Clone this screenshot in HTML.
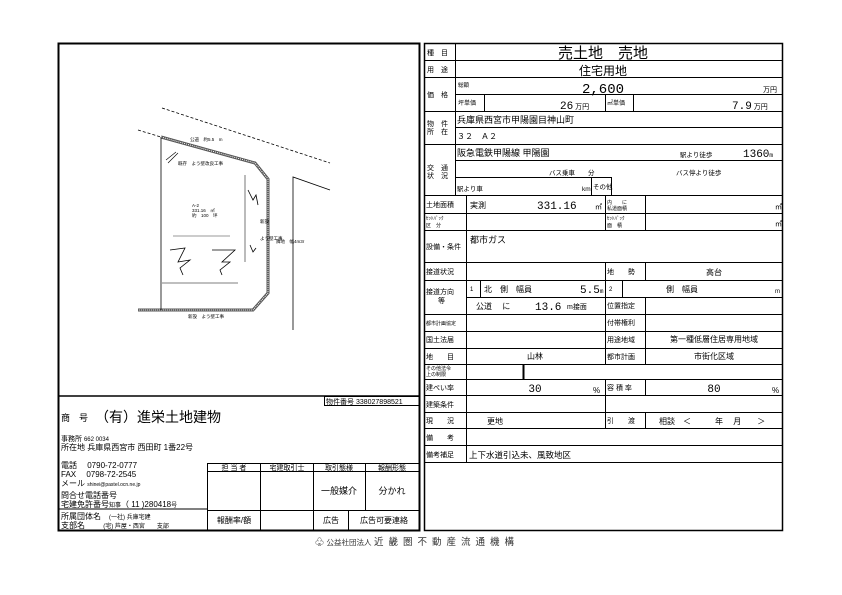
<!DOCTYPE html>
<html><head><meta charset="utf-8"><style>
html,body{margin:0;padding:0;background:#fff;}
svg{display:block;}
text{font-family:"Liberation Sans","Noto Sans CJK JP",sans-serif;fill:#000;}
.s{font-size:7px;}
.m{font-size:8.5px;}
.n{font-family:"Liberation Mono","Noto Sans CJK JP",monospace;}
</style></head><body>
<svg width="842" height="595" viewBox="0 0 842 595" xmlns="http://www.w3.org/2000/svg">
<g stroke="#000" fill="none">
<rect x="58.5" y="43.5" width="361" height="487" stroke-width="2"/>
<line x1="58" y1="396" x2="420" y2="396" stroke-width="1.5"/>
<rect x="324.5" y="396.5" width="95" height="9" stroke-width="1"/>
<line x1="58" y1="509" x2="207" y2="509" stroke-width="1"/>
<rect x="207.5" y="463.5" width="212" height="67" stroke-width="1"/>
<line x1="207" y1="471.5" x2="420" y2="471.5" stroke-width="1"/>
<line x1="207" y1="510.5" x2="420" y2="510.5" stroke-width="1"/>
<line x1="260.5" y1="463" x2="260.5" y2="531" stroke-width="1"/>
<line x1="313.5" y1="463" x2="313.5" y2="531" stroke-width="1"/>
<line x1="365.5" y1="463" x2="365.5" y2="510" stroke-width="1"/>
<line x1="348.5" y1="510" x2="348.5" y2="531" stroke-width="1"/>

<rect x="424.5" y="43.5" width="358" height="487" stroke-width="1.5"/>
<line x1="455.5" y1="43" x2="455.5" y2="195" stroke-width="1"/>
<g stroke-width="1">
<line x1="424" y1="60.5" x2="783" y2="60.5"/>
<line x1="424" y1="77.5" x2="783" y2="77.5"/>
<line x1="455" y1="94.5" x2="783" y2="94.5"/>
<line x1="424" y1="111.5" x2="783" y2="111.5"/>
<line x1="455" y1="127.5" x2="783" y2="127.5"/>
<line x1="424" y1="144.5" x2="783" y2="144.5"/>
<line x1="455" y1="160.5" x2="783" y2="160.5"/>
<line x1="455" y1="177.5" x2="611" y2="177.5"/>
<line x1="591.5" y1="177" x2="591.5" y2="195"/>
<line x1="611.5" y1="177" x2="611.5" y2="195"/>
<line x1="484.5" y1="94" x2="484.5" y2="111"/>
<line x1="605.5" y1="94" x2="605.5" y2="111"/>
<line x1="633.5" y1="94" x2="633.5" y2="111"/>
<line x1="424" y1="195.5" x2="783" y2="195.5"/>
<line x1="424" y1="213.5" x2="783" y2="213.5"/>
<line x1="424" y1="230.5" x2="783" y2="230.5"/>
<line x1="424" y1="262.5" x2="783" y2="262.5"/>
<line x1="424" y1="280.5" x2="783" y2="280.5"/>
<line x1="466" y1="297.5" x2="783" y2="297.5"/>
<line x1="424" y1="314.5" x2="783" y2="314.5"/>
<line x1="424" y1="331.5" x2="783" y2="331.5"/>
<line x1="424" y1="348.5" x2="783" y2="348.5"/>
<line x1="424" y1="364.5" x2="783" y2="364.5"/>
<line x1="424" y1="379.5" x2="783" y2="379.5"/>
<line x1="424" y1="395.5" x2="783" y2="395.5"/>
<line x1="424" y1="412.5" x2="783" y2="412.5"/>
<line x1="424" y1="428.5" x2="783" y2="428.5"/>
<line x1="424" y1="445.5" x2="783" y2="445.5"/>
<line x1="424" y1="462.5" x2="783" y2="462.5"/>
</g>
<line x1="466.5" y1="195" x2="466.5" y2="462" stroke-width="1"/>
<g stroke-width="1">
<line x1="605.5" y1="195" x2="605.5" y2="230"/>
<line x1="645.5" y1="195" x2="645.5" y2="230"/>
<line x1="605.5" y1="262" x2="605.5" y2="364"/>
<line x1="645.5" y1="262" x2="645.5" y2="280"/>
<line x1="622.5" y1="280" x2="622.5" y2="297"/>
<line x1="480.5" y1="280" x2="480.5" y2="297"/>
<line x1="645.5" y1="297" x2="645.5" y2="364"/>
<line x1="523.5" y1="364" x2="523.5" y2="379" stroke-width="2"/>
<line x1="605.5" y1="379" x2="605.5" y2="428"/>
<line x1="645.5" y1="379" x2="645.5" y2="395"/>
<line x1="645.5" y1="412" x2="645.5" y2="428"/>
</g>

<g stroke-width="0.8" stroke-dasharray="3,2">
<line x1="162" y1="108" x2="330" y2="163"/>
<line x1="138" y1="130" x2="161" y2="137"/>
</g>
<polyline points="161,137 255,163 268,179 268,293 253,310 138,310" stroke-width="3" stroke="#555"/>
<polyline points="161,137 255,163 268,179 268,293 253,310 138,310" stroke-width="1" stroke="#fff" stroke-dasharray="1,1"/>
<line x1="161" y1="137" x2="161" y2="310" stroke-width="0.8"/>
<polyline points="330,190 293,177 293,330" stroke-width="0.8"/>
<line x1="173" y1="236" x2="230" y2="236" stroke="#777" stroke-width="0.8"/>
<line x1="162" y1="283" x2="238" y2="283" stroke="#555" stroke-width="0.8"/>
<line x1="245" y1="175" x2="245" y2="262" stroke="#555" stroke-width="0.8"/>
<polyline points="170,250 185,248 178,262 190,260 180,268 183,275" stroke-width="0.8"/>
<polyline points="212,250 235,250 222,262 230,262 220,270 222,275" stroke-width="0.8"/>
<polyline points="248,190 253,200 256,195 258,205" stroke-width="0.8"/>
<polyline points="250,245 253,252 256,248" stroke-width="0.8"/>
<line x1="166" y1="160" x2="176" y2="152" stroke-width="0.6"/>
<line x1="168" y1="163" x2="178" y2="153" stroke-width="0.6"/>
</g>
<g style="font-size:4.5px">
<text x="190" y="141">公道　約5.5　m</text>
<text x="178" y="165">既存　よう壁改良工事</text>
<text x="192" y="207">A-2</text>
<text x="192" y="212">331.16　㎡</text>
<text x="192" y="217">約　100　坪</text>
<text x="260" y="223">新設</text>
<text x="260" y="240">よう壁工事</text>
<text x="276" y="243">隣地　幅4m3r</text>
<text x="188" y="318">新設　よう壁工事</text>
</g>

<text x="326" y="404" style="font-size:7px">物件番号 338027898521</text>
<text x="61" y="421" style="font-size:9px">商　号</text>
<text x="95" y="422" style="font-size:14px">（有）進栄土地建物</text>
<text x="61" y="441" class="s">事務所 <tspan style="font-size:6px">662 0034</tspan></text>
<text x="61" y="450" style="font-size:8px">所在地 兵庫県西宮市 西田町 1番22号</text>
<text x="61" y="468" style="font-size:8px">電話　 0790-72-0777</text>
<text x="61" y="477" style="font-size:8px">FAX　 0798-72-2545</text>
<text x="61" y="486" style="font-size:8px">メール <tspan style="font-size:5px">shinei@pastel.ocn.ne.jp</tspan></text>
<text x="61" y="498" style="font-size:8px">問合せ電話番号</text>
<text x="61" y="507" style="font-size:8px">宅建免許番号<tspan style="font-size:6px">知事</tspan>（ 11 )280418<tspan style="font-size:6px">号</tspan></text>
<text x="61" y="519" style="font-size:8px">所属団体名　<tspan style="font-size:6px">(一社) 兵庫宅建</tspan></text>
<text x="61" y="528" style="font-size:8px">支部名　　 <tspan style="font-size:6px">(宅) 芦屋・西宮　　支部</tspan></text>
<g class="s" text-anchor="middle">
<text x="234" y="470">担 当 者</text>
<text x="287" y="470">宅建取引士</text>
<text x="339" y="470">取引態様</text>
<text x="392" y="470">報酬形態</text>
<text x="339" y="494" style="font-size:9px">一般媒介</text>
<text x="392" y="494" style="font-size:9px">分かれ</text>
<text x="234" y="523" style="font-size:8px">報酬率/額</text>
<text x="331" y="523" style="font-size:8px">広告</text>
<text x="384" y="523" style="font-size:8px">広告可要連絡</text>
</g>

<g class="s">
<text x="427" y="55">種　目</text>
<text x="427" y="72">用　途</text>
<text x="427" y="97">価　格</text>
<text x="427" y="126">物　件</text>
<text x="427" y="134">所　在</text>
<text x="427" y="170">交　通</text>
<text x="427" y="178">状　況</text>
<text x="458" y="87" style="font-size:5.5px">総額</text>
<text x="458" y="105" style="font-size:6px">坪単価</text>
<text x="607" y="105" style="font-size:6px">㎡単価</text>
<text x="426" y="207">土地面積</text>
<text x="426" y="220" style="font-size:5px">ｾｯﾄﾊﾞｯｸ</text>
<text x="426" y="227" style="font-size:5px">区　分</text>
<text x="607" y="204" style="font-size:5px">内　　に</text>
<text x="607" y="210" style="font-size:5px">私道面積</text>
<text x="607" y="220" style="font-size:5px">ｾｯﾄﾊﾞｯｸ</text>
<text x="607" y="227" style="font-size:5px">面　積</text>
<text x="426" y="249">設備・条件</text>
<text x="426" y="274">接道状況</text>
<text x="426" y="294">接道方向</text>
<text x="438" y="303">等</text>
<text x="426" y="325" style="font-size:5px">都市計画協定</text>
<text x="426" y="342">国土法届</text>
<text x="426" y="359">地　　目</text>
<text x="426" y="370" style="font-size:5px">その他法令</text>
<text x="426" y="376" style="font-size:5px">上の制限</text>
<text x="426" y="390">建ぺい率</text>
<text x="426" y="407">建築条件</text>
<text x="426" y="423">現　　況</text>
<text x="426" y="440">備　　考</text>
<text x="426" y="457">備考補足</text>
<text x="607" y="274">地　　勢</text>
<text x="607" y="308">位置指定</text>
<text x="607" y="325">付帯権利</text>
<text x="607" y="342">用途地域</text>
<text x="607" y="359">都市計画</text>
<text x="607" y="390">容 積 率</text>
<text x="607" y="423">引　　渡</text>
</g>
<text x="603" y="58" text-anchor="middle" style="font-size:15px">売土地　売地</text>
<text x="603" y="75" text-anchor="middle" style="font-size:12px">住宅用地</text>
<text x="603" y="93" text-anchor="middle" class="n" style="font-size:14px">2,600</text>
<text x="763" y="92" style="font-size:7px">万円</text>
<text x="560" y="109" class="n" style="font-size:11px">26<tspan style="font-size:7px" font-family="Liberation Sans"> 万円</tspan></text>
<text x="732" y="109" class="n" style="font-size:11px">7.9<tspan style="font-size:7px" font-family="Liberation Sans"> 万円</tspan></text>
<text x="457" y="123" style="font-size:9px">兵庫県西宮市甲陽園目神山町</text>
<text x="457" y="139" style="font-size:8px">３２　Ａ２</text>
<text x="457" y="156" style="font-size:9px">阪急電鉄甲陽線 甲陽園</text>
<text x="680" y="157" style="font-size:6.5px">駅より徒歩</text>
<text x="743" y="157" class="n" style="font-size:11px">1360<tspan style="font-size:6px">m</tspan></text>
<text x="549" y="175" style="font-size:6.5px">バス乗車　　分</text>
<text x="676" y="175" style="font-size:6.5px">バス停より徒歩</text>
<text x="457" y="191" style="font-size:6.5px">駅より車</text>
<text x="582" y="191" style="font-size:6.5px">km</text>
<text x="593" y="189" style="font-size:6.5px">その他</text>
<text x="470" y="208" style="font-size:8px">実測</text>
<text x="537" y="209" class="n" style="font-size:11px">331.16</text>
<text x="595" y="209" style="font-size:7px">㎡</text>
<text x="775" y="209" style="font-size:7px">㎡</text>
<text x="775" y="226" style="font-size:7px">㎡</text>
<text x="470" y="243" style="font-size:9px">都市ガス</text>
<text x="714" y="275" text-anchor="middle" style="font-size:8px">高台</text>
<text x="470" y="291" style="font-size:6px">1</text>
<text x="484" y="292" style="font-size:8px">北　側　幅員</text>
<text x="580" y="293" class="n" style="font-size:11px">5.5<tspan style="font-size:6px">m</tspan></text>
<text x="609" y="291" style="font-size:6px">2</text>
<text x="666" y="292" style="font-size:8px">側　幅員</text>
<text x="775" y="293" style="font-size:6px">m</text>
<text x="476" y="309" style="font-size:8px">公道　 に</text>
<text x="535" y="310" class="n" style="font-size:11px">13.6</text>
<text x="567" y="309" style="font-size:7px">m接面</text>
<text x="714" y="342" text-anchor="middle" style="font-size:8px">第一種低層住居専用地域</text>
<text x="535" y="359" text-anchor="middle" style="font-size:8px">山林</text>
<text x="714" y="359" text-anchor="middle" style="font-size:8px">市街化区域</text>
<text x="535" y="392" text-anchor="middle" class="n" style="font-size:11px">30</text>
<text x="593" y="393" style="font-size:8px">%</text>
<text x="714" y="392" text-anchor="middle" class="n" style="font-size:11px">80</text>
<text x="772" y="393" style="font-size:8px">%</text>
<text x="487" y="424" style="font-size:8px">更地</text>
<text x="659" y="424" style="font-size:8px">相談　＜　　　年　 月　　＞</text>
<text x="469" y="458" style="font-size:8.5px">上下水道引込未、風致地区</text>

<text x="315" y="545" style="font-size:9px;fill:#333">♧ <tspan style="font-size:7.5px">公益社団法人</tspan> <tspan letter-spacing="5" style="font-size:9.5px">近畿圏不動産流通機構</tspan></text>
</svg>
</body></html>
